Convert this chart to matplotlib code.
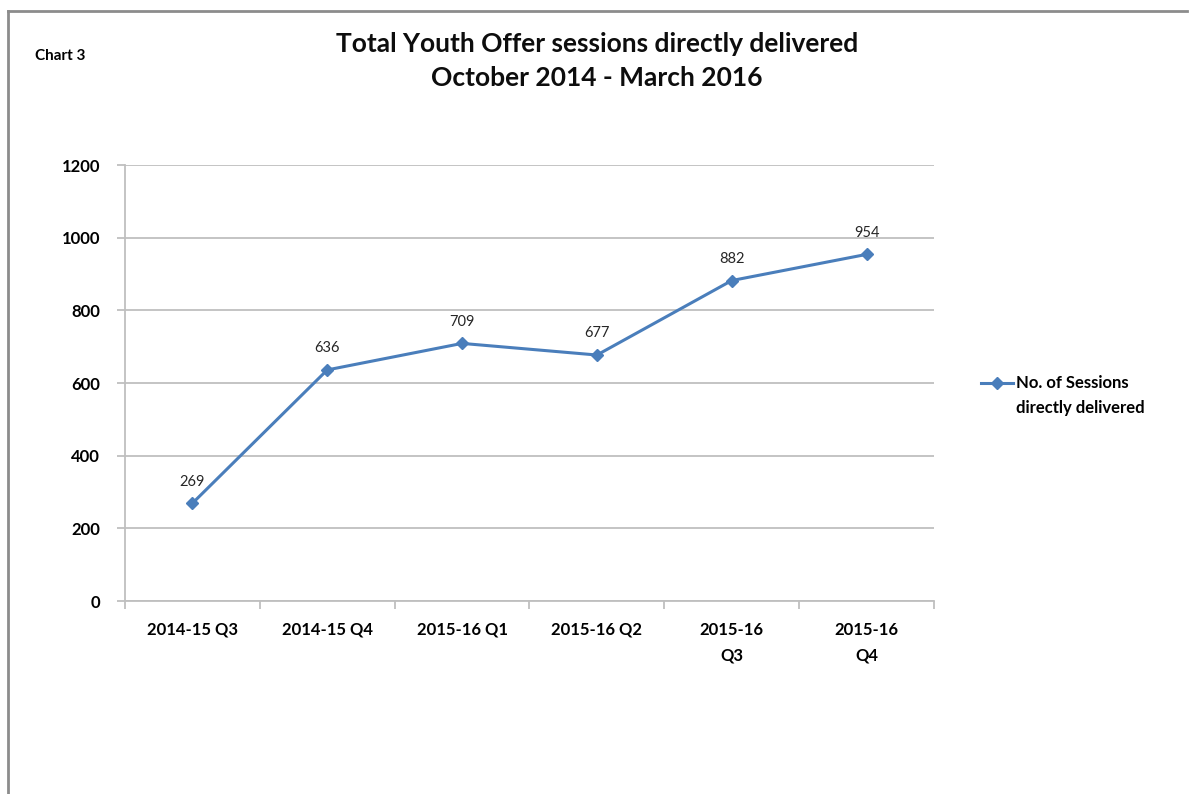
import matplotlib
matplotlib.use("Agg")
import matplotlib.pyplot as plt
from matplotlib.lines import Line2D

categories = ["2014-15 Q3", "2014-15 Q4", "2015-16 Q1", "2015-16 Q2", "2015-16\nQ3", "2015-16\nQ4"]
sessions = [269, 636, 709, 677, 882, 954]
series_name = "No. of Sessions\ndirectly delivered"
y_ticks = [0, 200, 400, 600, 800, 1000, 1200]

plt.rcParams['font.family'] = ['Lato', 'DejaVu Sans']

W, H = 1190, 794
fig = plt.figure(figsize=(W / 100, H / 100), dpi=100)
ax = fig.add_axes([125 / W, 1 - 601 / H, (934 - 125) / W, (601 - 165) / H])

line_color = "#4a7ebb"
grid_color = "#bfbfbf"

x = list(range(len(sessions)))
ax.plot(x, sessions, color=line_color, lw=2.2, marker="D", markersize=6.5,
        markerfacecolor=line_color, markeredgecolor=line_color, zorder=3,
        label=series_name.replace("\n", " "))

for xi, v in zip(x, sessions):
    ax.annotate(str(v), (xi, v), xytext=(0, 10.5), textcoords="offset points",
                ha="center", va="bottom", fontsize=10.5, color="#262626")

ax.set_ylim(0, 1200)
ax.set_xlim(-0.5, len(sessions) - 0.5)
ax.set_yticks(y_ticks)
ax.set_yticklabels([str(t) for t in y_ticks], fontsize=12, fontweight="bold")
ax.yaxis.grid(True, color=grid_color, lw=1.3)
ax.set_axisbelow(True)

# Category ticks at boundaries, labels at centres
ax.set_xticks([i - 0.5 for i in range(len(sessions) + 1)])
ax.set_xticklabels([])
ax.set_xticks(x, minor=True)
ax.set_xticklabels(categories, minor=True, fontsize=12, fontweight="bold",
                   linespacing=1.75, va="top")
ax.tick_params(axis="x", which="minor", length=0, pad=15)
ax.tick_params(axis="x", which="major", length=6, color=grid_color, width=1.3)
ax.tick_params(axis="y", length=6, color=grid_color, width=1.3, pad=12)

for s in ["top", "right"]:
    ax.spines[s].set_visible(False)
for s in ["left", "bottom"]:
    ax.spines[s].set_color(grid_color)
    ax.spines[s].set_linewidth(1.3)

# Title and chart label
fig.text(597 / W, 1 - 61 / H, "Total Youth Offer sessions directly delivered\nOctober 2014 - March 2016",
         ha="center", va="center", fontsize=19, fontweight="bold", linespacing=1.45, color="#0d0d0d")
fig.text(35 / W, 1 - 56 / H, "Chart 3", ha="left", va="center", fontsize=11, fontweight="bold")

# Legend (Excel style: key aligned with the first text line)
key_y = 1 - 383 / H
fig.add_artist(Line2D([981 / W, 997 / W, 1013 / W], [key_y, key_y, key_y], color=line_color, lw=2.2,
                      marker="D", markersize=6, markevery=[1], markerfacecolor=line_color,
                      markeredgecolor=line_color, transform=fig.transFigure))
fig.text(1016 / W, 1 - 395.5 / H, series_name, ha="left", va="center", fontsize=12,
         fontweight="bold", linespacing=1.7)

# Outer frame (left and top edges)
frame_color = "#8c8c8c"
fig.add_artist(Line2D([8 / W, 8 / W], [0, 1 - 11 / H], color=frame_color, lw=2, transform=fig.transFigure))
fig.add_artist(Line2D([8 / W, 1187 / W], [1 - 11 / H, 1 - 11 / H], color=frame_color, lw=2, transform=fig.transFigure))

fig.savefig("out.png", dpi=100, facecolor="white")
